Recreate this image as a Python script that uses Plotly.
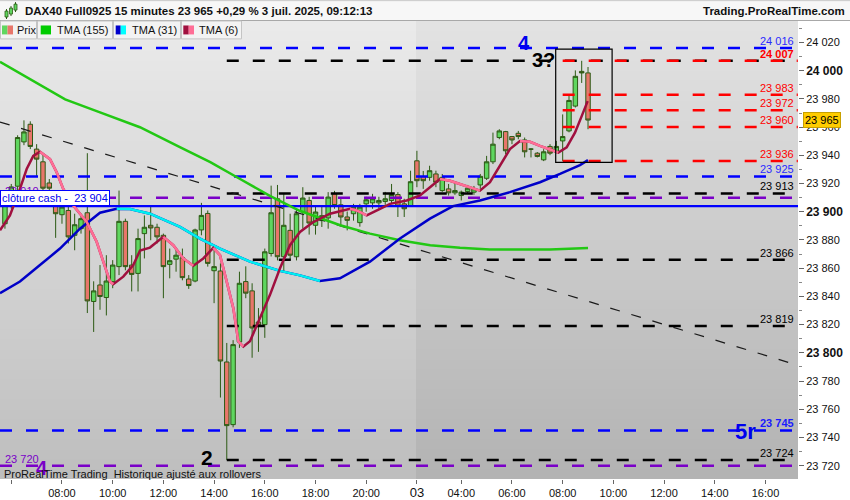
import plotly.graph_objects as go

FONT = "Liberation Sans, Arial, sans-serif"

# ---------------- data ----------------
# x = bar number of 15-minute bars (0 = 2 July 06:00, 64 = 3 July 02:15)
bar_idx = list(range(-1, 92))
open_ = [23891.5, 23905.6, 23918.1, 23949.5, 23962.0, 23944.4, 23935.4, 23920.4, 23906.8, 23897.9,
         23900.9, 23883.3, 23888.0, 23899.3, 23836.4, 23848.1, 23839.2, 23850.5, 23861.1, 23893.2,
         23862.2, 23856.3, 23884.5, 23890.4, 23889.0, 23883.3, 23862.7, 23866.4, 23867.4, 23852.3,
         23850.9, 23887.1, 23898.8, 23858.2, 23858.0, 23793.5, 23749.1, 23807.7, 23850.5, 23843.9,
         23821.8, 23820.0, 23870.4, 23909.2, 23868.1, 23886.8, 23868.1, 23899.8, 23908.0, 23890.4,
         23893.7, 23895.6, 23912.7, 23904.9, 23896.3, 23898.6, 23892.3, 23905.6, 23906.3, 23906.3,
         23907.3, 23908.0, 23912.2, 23905.6, 23904.0, 23936.1, 23924.9, 23924.4, 23926.8, 23915.0,
         23916.2, 23913.4, 23911.5, 23914.3, 23913.9, 23919.0, 23923.7, 23935.4, 23952.6, 23956.8,
         23953.3, 23955.6, 23950.9, 23944.4, 23941.5, 23936.8, 23946.3, 23942.5, 23950.2, 23957.3,
         23974.9, 23999.5, 23998.4]
high_ = [23909.2, 23919.7, 23954.2, 23964.8, 23964.1, 23947.9, 23940.8, 23923.2, 23912.7, 23905.6,
         23905.6, 23898.6, 23898.6, 23941.5, 23850.7, 23862.2, 23869.2, 23865.7, 23915.0, 23895.1,
         23869.2, 23888.0, 23897.4, 23904.4, 23891.5, 23884.5, 23873.9, 23873.9, 23873.9, 23855.1,
         23888.0, 23906.3, 23900.9, 23873.9, 23863.4, 23807.0, 23809.0, 23857.5, 23861.3, 23849.3,
         23831.7, 23873.9, 23918.5, 23919.0, 23912.7, 23898.6, 23902.1, 23917.4, 23910.6, 23904.4,
         23904.4, 23913.9, 23914.8, 23909.2, 23900.2, 23905.6, 23905.6, 23910.6, 23912.7, 23910.6,
         23914.1, 23919.7, 23913.9, 23909.2, 23929.1, 23943.2, 23928.9, 23932.6, 23929.1, 23926.8,
         23919.7, 23921.3, 23915.0, 23919.0, 23918.3, 23926.8, 23939.6, 23956.1, 23958.5, 23957.3,
         23953.7, 23957.3, 23952.6, 23945.0, 23942.3, 23944.4, 23947.9, 23950.2, 23969.0, 23983.1,
         24000.2, 24007.0, 24002.6]
low_ = [23888.0, 23902.1, 23912.7, 23947.2, 23944.4, 23925.4, 23909.2, 23909.2, 23881.5, 23891.5,
        23877.5, 23872.7, 23884.5, 23828.2, 23814.8, 23830.5, 23826.5, 23845.8, 23855.1, 23858.5,
        23843.5, 23843.5, 23866.9, 23879.8, 23877.5, 23838.7, 23852.8, 23857.5, 23851.4, 23845.3,
        23850.0, 23883.3, 23861.1, 23835.2, 23768.3, 23724.0, 23747.2, 23803.5, 23838.7, 23796.5,
        23800.7, 23810.6, 23868.3, 23865.5, 23857.5, 23865.5, 23865.5, 23888.0, 23883.8, 23883.8,
        23889.2, 23888.0, 23902.1, 23890.4, 23886.8, 23893.7, 23889.4, 23900.0, 23902.1, 23902.1,
        23904.9, 23905.6, 23896.3, 23896.3, 23903.5, 23917.4, 23916.2, 23922.0, 23917.4, 23914.1,
        23911.5, 23912.0, 23908.0, 23912.7, 23912.0, 23916.2, 23922.5, 23933.8, 23951.4, 23940.8,
        23947.9, 23951.4, 23938.5, 23938.5, 23938.5, 23935.9, 23940.1, 23941.5, 23936.0, 23956.3,
        23973.9, 23991.3, 23958.5]
close_ = [23905.6, 23917.6, 23952.6, 23956.6, 23946.3, 23937.3, 23916.7, 23916.7, 23898.6, 23903.3,
          23882.2, 23890.8, 23895.1, 23836.8, 23843.9, 23839.9, 23850.9, 23862.2, 23893.2, 23861.1,
          23855.6, 23881.0, 23889.0, 23888.5, 23882.2, 23861.1, 23865.3, 23869.2, 23853.3, 23847.7,
          23887.1, 23897.4, 23863.4, 23861.1, 23794.2, 23748.4, 23805.8, 23849.3, 23842.3, 23817.6,
          23819.5, 23871.6, 23899.3, 23868.1, 23890.4, 23869.2, 23898.6, 23909.7, 23892.0, 23899.8,
          23897.2, 23910.4, 23904.4, 23896.3, 23893.9, 23903.5, 23903.3, 23908.5, 23909.2, 23908.0,
          23909.2, 23912.2, 23904.0, 23902.1, 23921.3, 23922.0, 23922.0, 23929.1, 23920.9, 23924.4,
          23913.4, 23915.0, 23913.9, 23916.7, 23916.2, 23925.1, 23935.4, 23947.9, 23957.3, 23943.2,
          23950.9, 23953.3, 23942.5, 23944.4, 23939.2, 23942.5, 23941.5, 23946.3, 23953.3, 23978.9,
          23996.0, 23998.4, 23965.0]

# moving averages (bar number, value)
tma155_idx = [-1.78, 8.5, 14.0, 20.3, 26.6, 31.4, 36.1, 40.8, 45.5, 51.9, 56.6, 61.3, 66.1, 70.8,
              75.5, 80.3, 85.0, 91.0]
tma155_val = [24006.3, 23979.6, 23970.4, 23959.9, 23945.8, 23935.2, 23923.2, 23911.3, 23900.7,
              23890.4, 23884.5, 23879.8, 23876.3, 23874.4, 23873.2, 23873.2, 23873.2, 23874.3]
tma31_idx = [-1.78, 1.37, 4.53, 7.68, 10.84, 14.0, 16.63, 18.73, 21.88, 26.62, 29.77, 32.93, 37.66,
             42.4, 45.55, 48.7, 51.86, 56.59, 61.33, 66.06, 69.69, 73.95, 78.68, 83.42, 86.58,
             89.73, 90.99]
tma31_val = [23842.3, 23850.5, 23862.2, 23873.9, 23888.0, 23899.3, 23902.1, 23901.9, 23898.6,
             23889.2, 23881.0, 23873.9, 23864.6, 23858.1, 23854.9, 23850.9, 23852.8, 23864.6,
             23881.0, 23895.1, 23904.0, 23908.0, 23913.9, 23920.9, 23926.8, 23933.1, 23936.6]
tma6_idx = [-1.78, -0.21, 1.37, 2.43, 3.47, 4.53, 6.11, 7.16, 8.2, 9.78, 11.9, 13.47, 14.52, 15.57,
            16.09, 17.67, 19.25, 20.31, 21.88, 23.98, 25.56, 27.14, 28.72, 30.29, 31.87, 32.93,
            33.99, 35.03, 35.82, 36.61, 37.66, 39.24, 40.82, 42.4, 43.97, 45.55, 47.65, 50.28,
            53.44, 54.5, 56.08, 58.18, 59.76, 62.39, 64.49, 66.07, 67.64, 69.22, 71.85, 73.95,
            75.53, 77.11, 78.68, 80.26, 81.84, 83.42, 85.0, 86.31, 87.63, 88.94, 90.0, 90.94]
tma6_val = [23886.8, 23897.4, 23916.2, 23930.3, 23939.6, 23942.5, 23937.3, 23928.0, 23916.2,
            23904.4, 23892.7, 23878.7, 23864.6, 23850.5, 23848.6, 23854.0, 23862.2, 23872.5,
            23874.6, 23882.2, 23876.3, 23866.9, 23861.8, 23866.9, 23874.4, 23869.2, 23850.5,
            23831.7, 23808.2, 23804.4, 23808.2, 23824.6, 23841.1, 23859.9, 23876.3, 23885.7,
            23892.7, 23898.6, 23902.1, 23900.9, 23897.4, 23902.1, 23905.6, 23908.0, 23911.5,
            23917.4, 23923.2, 23922.0, 23918.1, 23915.0, 23920.9, 23932.6, 23944.4, 23950.2,
            23949.6, 23946.7, 23944.4, 23942.0, 23945.6, 23956.1, 23967.8, 23978.4]

# horizontal levels
level_price = [24016, 24007, 24007, 23983, 23972, 23960, 23936, 23925, 23913, 23910, 23904,
               23866, 23819, 23745, 23724, 23720]
level_label = ["24 016", "", "24 007", "23 983", "23 972", "23 960", "23 936", "23 925", "23 913",
               "23 910", "clôture cash - &nbsp;23 904", "23 866", "23 819", "23 745", "23 724", "23 720"]
# trend line and box
trend_idx = [-1.78, 123.5]
trend_price = [23963.6, 23792.0]
box_idx = [85.9, 94.8]
box_price = [24015.3, 23935.0]
current_price = 23965
# wave labels
wave_text = ["4", "3?", "2", "5r", "4"]
wave_idx = [80.9, 83.9, 30.9, 115.8, 4.8]
wave_price = [24019.7, 24007.7, 23725.7, 23744.0, 23718.3]

# axis ticks
tick_idx = [0, 8, 16, 24, 32, 40, 48, 56, 64, 71, 79, 87, 95, 103, 111, 119]
tick_txt = ["", "08:00", "10:00", "12:00", "14:00", "16:00", "18:00", "20:00", "03", "04:00",
            "06:00", "08:00", "10:00", "12:00", "14:00", "16:00"]
price_ticks = [23720, 23740, 23760, 23780, 23800, 23820, 23840, 23860, 23880, 23900, 23920,
               23940, 23960, 23980, 24000, 24020]
price_minor = [23730, 23750, 23770, 23790, 23810, 23830, 23850, 23870, 23890, 23910, 23930,
               23950, 23970, 23990, 24010, 24030]

# ---------------- styles ----------------
BLUE, BLACK, RED, PURPLE = "#0000ff", "#000000", "#ff0000", "#7a00c8"
level_style = [
    # color, width, dash, x from, x to, label color, bold, label side
    (BLUE, 2.5, "12px,14px", -1.78, 123.4, "#2a2aff", False, "r"),
    (BLACK, 2.5, "12px,14px", 34, 122.8, None, False, None),
    (RED, 2.5, "12px,14px", 87, 124.1, RED, True, "r"),
    (RED, 2.5, "12px,14px", 87, 124.1, RED, False, "r"),
    (RED, 2.5, "12px,14px", 87, 124.1, RED, False, "r"),
    (RED, 2.5, "12px,14px", 87, 124.1, RED, False, "r"),
    (RED, 2.5, "12px,14px", 87, 124.1, RED, False, "r"),
    (BLUE, 2.5, "12px,14px", -1.78, 123.4, "#2a2aff", False, "r"),
    (BLACK, 2.5, "12px,14px", 34, 122.8, BLACK, False, "r"),
    (PURPLE, 2.5, "12px,14px", -1.78, 124.1, PURPLE, False, "l"),
    (BLUE, 2.2, "solid", -1.78, 124.13, "#0000ee", False, "box"),
    (BLACK, 2.5, "12px,14px", 34, 122.8, BLACK, False, "r"),
    (BLACK, 2.5, "12px,14px", 34, 122.8, BLACK, False, "r"),
    (BLUE, 2.5, "12px,14px", -1.78, 123.4, "#1a1aff", True, "r"),
    (BLACK, 2.5, "12px,14px", 34, 122.8, BLACK, False, "r"),
    (PURPLE, 2.5, "12px,14px", -1.78, 124.1, PURPLE, False, "l"),
]
wave_style = [("#0000ee", 20), ("#000000", 20), ("#000000", 21), ("#0000ee", 22), (PURPLE, 20)]

PW, PT, PB = 798.0, 21.0, 482.0


def px_x(px):
    return px / PW


def px_y(py):
    return (PB - py) / (PB - PT)


fig = go.Figure()

# background gradient (two sessions)
shapes = []
split = px_x(416)
n = 46
for x0, x1, top, bot in [(0, split, 234, 190), (split, 1, 227, 178)]:
    for i in range(n):
        t = (i + 0.5) / n
        c = round(bot + (top - bot) * t)
        shapes.append(dict(type="rect", xref="paper", yref="paper", x0=x0, x1=x1,
                           y0=i / n, y1=min(1, (i + 1) / n + 0.002),
                           fillcolor=f"rgb({c},{c},{c})", line=dict(width=0), layer="below"))

# candles
fig.add_trace(go.Candlestick(
    x=bar_idx, open=open_, high=high_, low=low_, close=close_,
    increasing=dict(fillcolor="#5fd65f", line=dict(color="#2c5a14", width=1)),
    decreasing=dict(fillcolor="#e8766a", line=dict(color="#2c5a14", width=1)),
    whiskerwidth=0, hoverinfo="skip"))

# levels
for p, st in zip(level_price, level_style):
    color, w, dash, xa, xb = st[:5]
    fig.add_trace(go.Scatter(x=[xa, xb], y=[p, p], mode="lines",
                             line=dict(color=color, width=w, dash=dash), hoverinfo="skip"))

# trend line
fig.add_trace(go.Scatter(x=trend_idx, y=trend_price, mode="lines",
                         line=dict(color="#1a1a1a", width=1.2, dash="10px,12px"), hoverinfo="skip"))


def falling_segments(xs, ys):
    fx, fy = [], []
    prev = False
    for i in range(len(xs) - 1):
        fall = ys[i + 1] < ys[i]
        if fall:
            if not prev:
                if fx:
                    fx.append(None)
                    fy.append(None)
                fx.append(xs[i])
                fy.append(ys[i])
            fx.append(xs[i + 1])
            fy.append(ys[i + 1])
        prev = fall
    return fx, fy


fig.add_trace(go.Scatter(x=tma155_idx, y=tma155_val, mode="lines",
                         line=dict(color="#22c814", width=2.5), hoverinfo="skip"))
fig.add_trace(go.Scatter(x=tma31_idx, y=tma31_val, mode="lines",
                         line=dict(color="#0000c8", width=2.5), hoverinfo="skip"))
fx, fy = falling_segments(tma31_idx, tma31_val)
fig.add_trace(go.Scatter(x=fx, y=fy, mode="lines", line=dict(color="#00f0f0", width=2.5),
                         hoverinfo="skip"))
fig.add_trace(go.Scatter(x=tma6_idx, y=tma6_val, mode="lines",
                         line=dict(color="#a0103f", width=2.5), hoverinfo="skip"))
fx, fy = falling_segments(tma6_idx, tma6_val)
fig.add_trace(go.Scatter(x=fx, y=fy, mode="lines", line=dict(color="#ff6e96", width=2.5),
                         hoverinfo="skip"))

# box around the last bars
shapes.append(dict(type="rect", xref="x", yref="y", x0=box_idx[0], x1=box_idx[1],
                   y0=box_price[1], y1=box_price[0], line=dict(color="black", width=1.2),
                   fillcolor="rgba(0,0,0,0)", layer="above"))

# header bars
shapes.append(dict(type="rect", xref="paper", yref="paper", x0=0, x1=px_x(850), y0=px_y(20.5),
                   y1=px_y(0), fillcolor="#f7f7f7", line=dict(width=0)))
shapes.append(dict(type="line", xref="paper", yref="paper", x0=0, x1=px_x(850), y0=px_y(20.5),
                   y1=px_y(20.5), line=dict(color="#a8a8a8", width=1)))
shapes.append(dict(type="line", xref="paper", yref="paper", x0=0, x1=px_x(850), y0=px_y(0.5),
                   y1=px_y(0.5), line=dict(color="#c8c8c8", width=1)))
legend_boxes = [(0, 37), (37, 113), (113, 181), (181, 242)]
for a, b in legend_boxes:
    shapes.append(dict(type="rect", xref="paper", yref="paper", x0=px_x(a + 0.5), x1=px_x(b - 0.5),
                       y0=px_y(39), y1=px_y(21), fillcolor="#f3f3f3",
                       line=dict(color="#c4c4c4", width=1)))
icons = [(2, 7.5, "#5fd65f"), (7.5, 13, "#e8766a"), (40.7, 51, "#00cc00"), (115.7, 120.7, "#0000cc"),
         (120.7, 126, "#00ffff"), (183.3, 188.7, "#a0103f"), (188.7, 194, "#ff6e96")]
for a, b, col in icons:
    shapes.append(dict(type="rect", xref="paper", yref="paper", x0=px_x(a), x1=px_x(b),
                       y0=px_y(34.5), y1=px_y(25.5), fillcolor=col, line=dict(width=0)))
# small title icon
for a, b, top, bot in [(5, 8, 11, 17), (9.5, 12.5, 8, 14), (14, 17, 4, 10)]:
    shapes.append(dict(type="line", xref="paper", yref="paper", x0=px_x((a + b) / 2),
                       x1=px_x((a + b) / 2), y0=px_y(bot + 2), y1=px_y(top - 2),
                       line=dict(color="#2c5a14", width=1)))
    shapes.append(dict(type="rect", xref="paper", yref="paper", x0=px_x(a), x1=px_x(b),
                       y0=px_y(bot), y1=px_y(top), fillcolor="#5fd65f",
                       line=dict(color="#2c5a14", width=0.8)))

ann = []
# level labels
for p, lab, st in zip(level_price, level_label, level_style):
    lc, bold, side = st[5], st[6], st[7]
    if not lab or side is None:
        continue
    txt = f"<b>{lab}</b>" if bold else lab
    if side == "r":
        ann.append(dict(x=1, xref="paper", y=p, yref="y", text=txt, showarrow=False,
                        xanchor="right", yanchor="bottom", xshift=-2, yshift=-1,
                        font=dict(family=FONT, size=11, color=lc)))
    elif side == "l":
        ann.append(dict(x=px_x(3), xref="paper", y=p, yref="y", text=txt, showarrow=False,
                        xanchor="left", yanchor="bottom", yshift=-1,
                        font=dict(family=FONT, size=11, color=lc)))
# wave labels
for t, xi, yp, (col, sz) in zip(wave_text, wave_idx, wave_price, wave_style):
    ann.append(dict(x=xi, y=yp, xref="x", yref="y", text=f"<b>{t}</b>", showarrow=False,
                    xanchor="center", yanchor="middle",
                    font=dict(family=FONT, size=sz, color=col)))
# cash close box
for p, lab, st in zip(level_price, level_label, level_style):
    if st[7] == "box":
        ann.append(dict(x=0, xref="paper", y=p, yref="y", text=lab, showarrow=False,
                        xanchor="left", yanchor="bottom", yshift=0, bgcolor="white",
                        bordercolor="#0000ff", borderwidth=1, borderpad=1,
                        font=dict(family=FONT, size=11, color=st[5])))
# current price
ann.append(dict(x=1, xref="paper", y=current_price, yref="y", text="23 965", showarrow=False,
                xanchor="left", yanchor="middle", xshift=5, bgcolor="#ffcc00",
                bordercolor="#c8a000", borderwidth=1, borderpad=1,
                font=dict(family=FONT, size=11, color="black")))
# texts in header / footer
ann.append(dict(x=px_x(23), xref="paper", y=px_y(11), yref="paper", showarrow=False,
                text="<b>DAX40 Full0925 15 minutes 23 965 +0,29 % 3 juil. 2025, 09:12:13</b>",
                xanchor="left", yanchor="middle", font=dict(family=FONT, size=11.5, color="#111")))
ann.append(dict(x=px_x(847), xref="paper", y=px_y(11), yref="paper", showarrow=False,
                text="<b>Trading.ProRealTime.com</b>", xanchor="right", yanchor="middle",
                font=dict(family=FONT, size=11.5, color="#111")))
for xpos, lab in [(15, "Prix"), (54.5, "TMA (155)"), (129.5, "TMA (31)"), (197, "TMA (6)")]:
    ann.append(dict(x=px_x(xpos), xref="paper", y=px_y(30), yref="paper", showarrow=False,
                    text=lab, xanchor="left", yanchor="middle",
                    font=dict(family=FONT, size=11, color="#111")))
ann.append(dict(x=px_x(2), xref="paper", y=px_y(476.5), yref="paper", showarrow=False,
                text="ProRealTime Trading&nbsp; Historique ajusté aux rollovers",
                xanchor="left", yanchor="middle", font=dict(family=FONT, size=11, color="#111")))

price_tick_txt = []
for v in price_ticks:
    s = f"{v // 1000} {v % 1000:03d}"
    price_tick_txt.append(f"<b><span style='font-size:12px'>{s}</span></b>" if v % 100 == 0 else s)
tick_txt_fmt = [f"<span style='font-size:13px'>{t}</span>" if t == "03" else t for t in tick_txt]

fig.update_layout(
    width=850, height=500, autosize=False,
    margin=dict(l=0, r=52, t=21, b=18, pad=0),
    paper_bgcolor="white", plot_bgcolor="#d0d0d0",
    showlegend=False, hovermode=False,
    boxgap=0.3, boxgroupgap=0,
    shapes=shapes, annotations=ann,
    xaxis=dict(range=[-1.78, 124.13], tickmode="array", tickvals=tick_idx, ticktext=tick_txt_fmt,
               ticks="outside", ticklen=4, tickcolor="#666", showgrid=False, zeroline=False,
               showline=False, rangeslider=dict(visible=False), fixedrange=True,
               tickfont=dict(family=FONT, size=11, color="#111")),
    yaxis=dict(side="right", range=[23710.56, 24035.21], tickmode="array", tickvals=price_ticks,
               ticktext=price_tick_txt, ticks="outside", ticklen=5, tickcolor="#666",
               showgrid=False, zeroline=False, showline=False, fixedrange=True,
               tickfont=dict(family=FONT, size=11, color="#111"),
               minor=dict(tickmode="array", tickvals=price_minor, ticks="outside", ticklen=3,
                          tickcolor="#888")),
)

fig.write_html("out.html", config={"displayModeBar": False},
               post_script="document.body.style.margin='0';document.body.style.padding='0';")
